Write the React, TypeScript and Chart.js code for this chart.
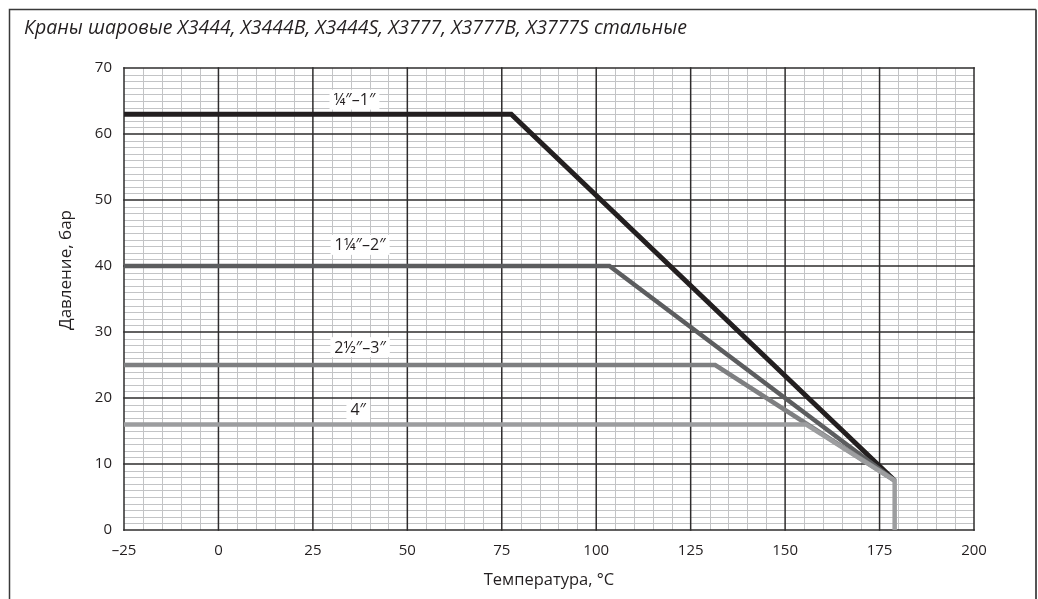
import React, { useEffect, useRef } from 'react';
import { Chart, registerables } from 'chart.js';

Chart.register(...registerables);

// ---- Text ----
const TITLE = 'Краны шаровые X3444, X3444B, X3444S, X3777, X3777B, X3777S стальные';
const X_TITLE = 'Температура, °C';
const Y_TITLE = 'Давление, бар';

// ---- Axes (data units) ----
const X_MIN = -25;
const X_MAX = 200;
const X_MAJOR = 25;
const X_MINOR = 5;
const Y_MIN = 0;
const Y_MAX = 70;
const Y_MAJOR = 10;
const Y_MINOR = 1;

// ---- Series ----
const seriesNames = ['¼″–1″', '1¼″–2″', '2½″–3″', '4″'];
const s1X = [-25, 77.5, 179];
const s1Y = [63, 63, 7.5];
const s2X = [-25, 103.5, 179];
const s2Y = [40, 40, 7.5];
const s3X = [-25, 131.5, 179];
const s3Y = [25, 25, 7.5];
const s4X = [-25, 155.5, 179, 179];
const s4Y = [16, 16, 7.5, 0];

// label anchors (data units)
const labelAtX = [36, 37.5, 37.5, 37];
const labelAtY = [65.2, 43.2, 27.7, 18.2];

const seriesColors = ['#231f20', '#5c5d5f', '#7e7f81', '#9c9d9f'];
const seriesWidths = [5, 4.5, 4.5, 4.5];

const FONT = '"Open Sans", "Noto Sans", sans-serif';

function pts(xs: number[], ys: number[]) {
  return xs.map((x, i) => ({ x, y: ys[i] }));
}

const fmt = (v: number) => (v < 0 ? '–' + Math.abs(v) : String(v));

export default function App() {
  const ref = useRef<HTMLCanvasElement | null>(null);

  useEffect(() => {
    const canvas = ref.current;
    if (!canvas) return;

    const decor = {
      id: 'decor',
      beforeDatasetsDraw(chart: any) {
        const { ctx, chartArea: a, scales } = chart;
        const xs = scales.x;
        const ys = scales.y;
        ctx.save();
        ctx.lineWidth = 1;
        ctx.strokeStyle = '#c3c4c6';
        for (let v = X_MIN; v <= X_MAX; v += X_MINOR) {
          if (v % X_MAJOR === 0) continue;
          const px = Math.round(xs.getPixelForValue(v)) + 0.5;
          ctx.beginPath();
          ctx.moveTo(px, a.top);
          ctx.lineTo(px, a.bottom);
          ctx.stroke();
        }
        for (let v = Y_MIN; v <= Y_MAX; v += Y_MINOR) {
          if (v % Y_MAJOR === 0) continue;
          const py = Math.round(ys.getPixelForValue(v)) + 0.5;
          ctx.beginPath();
          ctx.moveTo(a.left, py);
          ctx.lineTo(a.right, py);
          ctx.stroke();
        }
        ctx.lineWidth = 1.5;
        ctx.strokeStyle = '#2e2c2d';
        for (let v = X_MIN; v <= X_MAX; v += X_MAJOR) {
          const px = xs.getPixelForValue(v);
          ctx.beginPath();
          ctx.moveTo(px, a.top - 0.75);
          ctx.lineTo(px, a.bottom + 0.75);
          ctx.stroke();
        }
        for (let v = Y_MIN; v <= Y_MAX; v += Y_MAJOR) {
          const py = ys.getPixelForValue(v);
          ctx.beginPath();
          ctx.moveTo(a.left - 0.75, py);
          ctx.lineTo(a.right + 0.75, py);
          ctx.stroke();
        }
        ctx.restore();
      },
      afterDatasetsDraw(chart: any) {
        const { ctx, scales } = chart;
        ctx.save();
        ctx.font = `16px ${FONT}`;
        ctx.textAlign = 'center';
        ctx.textBaseline = 'middle';
        seriesNames.forEach((name, i) => {
          const cx = scales.x.getPixelForValue(labelAtX[i]);
          const cy = scales.y.getPixelForValue(labelAtY[i]);
          const w = ctx.measureText(name).width;
          ctx.fillStyle = '#ffffff';
          ctx.fillRect(cx - w / 2 - 4, cy - 10, w + 8, 20);
          ctx.fillStyle = '#231f20';
          ctx.fillText(name, cx, cy + 1);
        });
        ctx.restore();
      },
      afterDraw(chart: any) {
        const { ctx, chartArea: a } = chart;
        ctx.save();
        ctx.strokeStyle = '#3a3a3a';
        ctx.lineWidth = 1.5;
        ctx.beginPath();
        ctx.moveTo(9.5, 620);
        ctx.lineTo(9.5, 9.5);
        ctx.lineTo(1036, 9.5);
        ctx.stroke();
        ctx.strokeStyle = '#555555';
        ctx.lineWidth = 2;
        ctx.beginPath();
        ctx.moveTo(1036, 9.5);
        ctx.lineTo(1036, 620);
        ctx.stroke();
        ctx.fillStyle = '#231f20';
        ctx.font = `italic 19.5px ${FONT}`;
        ctx.textAlign = 'left';
        ctx.textBaseline = 'alphabetic';
        ctx.fillText(TITLE, 24, 34);
        ctx.font = `16.5px ${FONT}`;
        ctx.textAlign = 'center';
        ctx.fillText(X_TITLE, (a.left + a.right) / 2, 585);
        ctx.font = `17px ${FONT}`;
        ctx.translate(71, 270);
        ctx.rotate(-Math.PI / 2);
        ctx.fillText(Y_TITLE, 0, 0);
        ctx.restore();
      },
    };

    const mk = (xs: number[], ys: number[], i: number) => ({
      label: seriesNames[i],
      data: pts(xs, ys),
      borderColor: seriesColors[i],
      backgroundColor: seriesColors[i],
      borderWidth: seriesWidths[i],
      pointRadius: 0,
      tension: 0,
      fill: false,
      borderJoinStyle: 'miter' as const,
      borderCapStyle: 'butt' as const,
      order: 3 - i,
    });

    const chart = new Chart(canvas, {
      type: 'line',
      data: {
        datasets: [mk(s1X, s1Y, 0), mk(s2X, s2Y, 1), mk(s3X, s3Y, 2), mk(s4X, s4Y, 3)],
      },
      options: {
        animation: false,
        responsive: false,
        devicePixelRatio: 1,
        layout: { padding: { top: 68, right: 64, left: 0, bottom: 0 } },
        plugins: { legend: { display: false }, tooltip: { enabled: false } },
        scales: {
          x: {
            type: 'linear',
            min: X_MIN,
            max: X_MAX,
            grid: { display: false, drawTicks: false },
            border: { display: false },
            ticks: {
              stepSize: X_MAJOR,
              autoSkip: false,
              padding: 12,
              color: '#231f20',
              font: { family: FONT, size: 15 },
              callback: (v: any) => fmt(Number(v)),
            },
            afterFit: (s: any) => {
              s.height = 69;
            },
          },
          y: {
            type: 'linear',
            min: Y_MIN,
            max: Y_MAX,
            grid: { display: false, drawTicks: false },
            border: { display: false },
            ticks: {
              stepSize: Y_MAJOR,
              autoSkip: false,
              padding: 12,
              color: '#231f20',
              font: { family: FONT, size: 15 },
              callback: (v: any) => fmt(Number(v)),
            },
            afterFit: (s: any) => {
              s.width = 124;
            },
          },
        },
      },
      plugins: [decor],
    });

    return () => chart.destroy();
  }, []);

  return (
    <div style={{ position: 'absolute', left: 0, top: 0, width: 1038, height: 599, background: '#fff' }}>
      <canvas ref={ref} width={1038} height={599} style={{ display: 'block', width: 1038, height: 599 }} />
    </div>
  );
}
